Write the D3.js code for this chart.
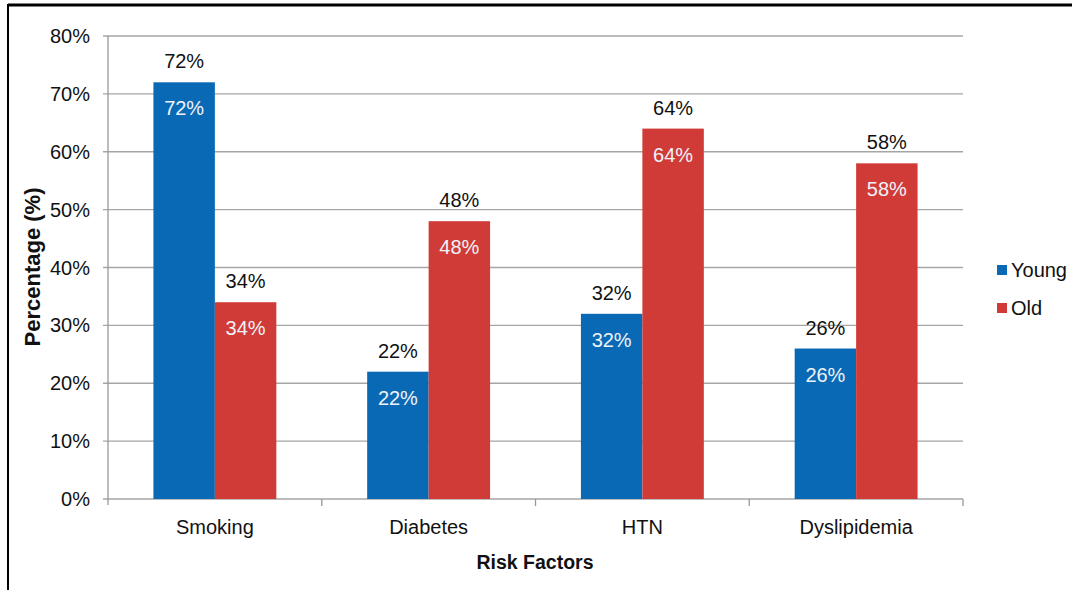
<!DOCTYPE html>
<html>
<head>
<meta charset="utf-8">
<script src="https://cdn.jsdelivr.net/npm/d3@7"></script>
<style>
  body { margin: 0; background: #fff; }
  svg { display: block; font-family: "Liberation Sans", Arial, sans-serif; }
</style>
</head>
<body>
<svg id="chart"></svg>
<script>
const categories = ['Smoking', 'Diabetes', 'HTN', 'Dyslipidemia']
const seriesNames = ['Young', 'Old']
const young = [72, 22, 32, 26]
const old = [34, 48, 64, 58]
const yTicks = [0, 10, 20, 30, 40, 50, 60, 70, 80]

const width = 1072
const height = 590
const colors = ['#0a69b5', '#d13b37']
const fontSize = '20px'

const svg = d3.select('#chart')
    .attr('width', width)
    .attr('height', height)

// frame (top + left only)
svg.append('line').attr('x1', 8).attr('x2', width).attr('y1', 5).attr('y2', 5)
    .attr('stroke', '#000').attr('stroke-width', 3)
svg.append('line').attr('x1', 8).attr('x2', 8).attr('y1', 4).attr('y2', height)
    .attr('stroke', '#000').attr('stroke-width', 2)

const x0 = d3.scaleBand()
    .domain(categories)
    .range([108, 963])
    .paddingInner(0.425)
    .paddingOuter(0.2125)

const x1 = d3.scaleBand()
    .domain(seriesNames)
    .range([0, x0.bandwidth()])

const y = d3.scaleLinear()
    .domain([0, 80])
    .range([499, 36])

// gridlines
svg.append('g')
    .selectAll('line')
    .data(yTicks)
    .enter().append('line')
    .attr('x1', 103)
    .attr('x2', 963)
    .attr('y1', d => y(d))
    .attr('y2', d => y(d))
    .attr('stroke', '#a6a6a6')
    .attr('stroke-width', 1.3)

// y tick labels
svg.append('g')
    .selectAll('text')
    .data(yTicks)
    .enter().append('text')
    .attr('x', 90)
    .attr('y', d => y(d))
    .attr('dy', '.35em')
    .attr('text-anchor', 'end')
    .style('font-size', fontSize)
    .attr('fill', '#111')
    .text(d => d + '%')

// y axis line
svg.append('line')
    .attr('x1', 108).attr('x2', 108)
    .attr('y1', y(80)).attr('y2', y(0) + 6)
    .attr('stroke', '#999').attr('stroke-width', 1.3)

// x axis tick marks at category boundaries
const step = x0.step()
const boundaries = categories.map((c, i) => 108 + step * (i + 1))
svg.append('g')
    .selectAll('line')
    .data(boundaries)
    .enter().append('line')
    .attr('x1', d => d).attr('x2', d => d)
    .attr('y1', y(0)).attr('y2', y(0) + 7)
    .attr('stroke', '#999').attr('stroke-width', 1.3)

const data = categories.map((c, i) => ({ category: c, values: [young[i], old[i]] }))

const groups = svg.append('g')
    .selectAll('g')
    .data(data)
    .enter().append('g')
    .attr('transform', d => `translate(${x0(d.category)},0)`)

groups.selectAll('rect')
    .data(d => d.values.map((v, i) => ({ name: seriesNames[i], value: v, i })))
    .enter().append('rect')
    .attr('x', d => x1(d.name))
    .attr('y', d => y(d.value))
    .attr('width', x1.bandwidth())
    .attr('height', d => y(0) - y(d.value))
    .attr('fill', d => colors[d.i])

// labels above bars
groups.selectAll('.above')
    .data(d => d.values.map((v, i) => ({ name: seriesNames[i], value: v })))
    .enter().append('text')
    .attr('class', 'above')
    .attr('x', d => x1(d.name) + x1.bandwidth() / 2)
    .attr('y', d => y(d.value) - 14)
    .attr('text-anchor', 'middle')
    .style('font-size', fontSize)
    .attr('fill', '#111')
    .text(d => d.value + '%')

// labels inside bars
groups.selectAll('.inside')
    .data(d => d.values.map((v, i) => ({ name: seriesNames[i], value: v })))
    .enter().append('text')
    .attr('class', 'inside')
    .attr('x', d => x1(d.name) + x1.bandwidth() / 2)
    .attr('y', d => y(d.value) + 33)
    .attr('text-anchor', 'middle')
    .style('font-size', fontSize)
    .attr('fill', '#eef3f8')
    .text(d => d.value + '%')

// category labels
svg.append('g')
    .selectAll('text')
    .data(categories)
    .enter().append('text')
    .attr('x', d => x0(d) + x0.bandwidth() / 2)
    .attr('y', 527)
    .attr('dy', '.35em')
    .attr('text-anchor', 'middle')
    .style('font-size', fontSize)
    .attr('fill', '#111')
    .text(d => d)

// axis titles
svg.append('text')
    .attr('x', 535)
    .attr('y', 562)
    .attr('dy', '.35em')
    .attr('text-anchor', 'middle')
    .style('font-size', '19.5px')
    .style('font-weight', 'bold')
    .attr('fill', '#111')
    .text('Risk Factors')

svg.append('text')
    .attr('transform', 'translate(32,267) rotate(-90)')
    .attr('dy', '.35em')
    .attr('text-anchor', 'middle')
    .style('font-size', '22px')
    .style('font-weight', 'bold')
    .attr('fill', '#111')
    .text('Percentage (%)')

// legend
const legend = svg.selectAll('.legend')
    .data(seriesNames)
    .enter().append('g')
    .attr('class', 'legend')
    .attr('transform', (d, i) => `translate(997,${270 + i * 38})`)

legend.append('rect')
    .attr('x', 0)
    .attr('y', -5)
    .attr('width', 10)
    .attr('height', 10)
    .attr('fill', (d, i) => colors[i])

legend.append('text')
    .attr('x', 14)
    .attr('y', 0)
    .attr('dy', '.35em')
    .style('font-size', fontSize)
    .attr('fill', '#111')
    .text(d => d)
</script>
</body>
</html>
